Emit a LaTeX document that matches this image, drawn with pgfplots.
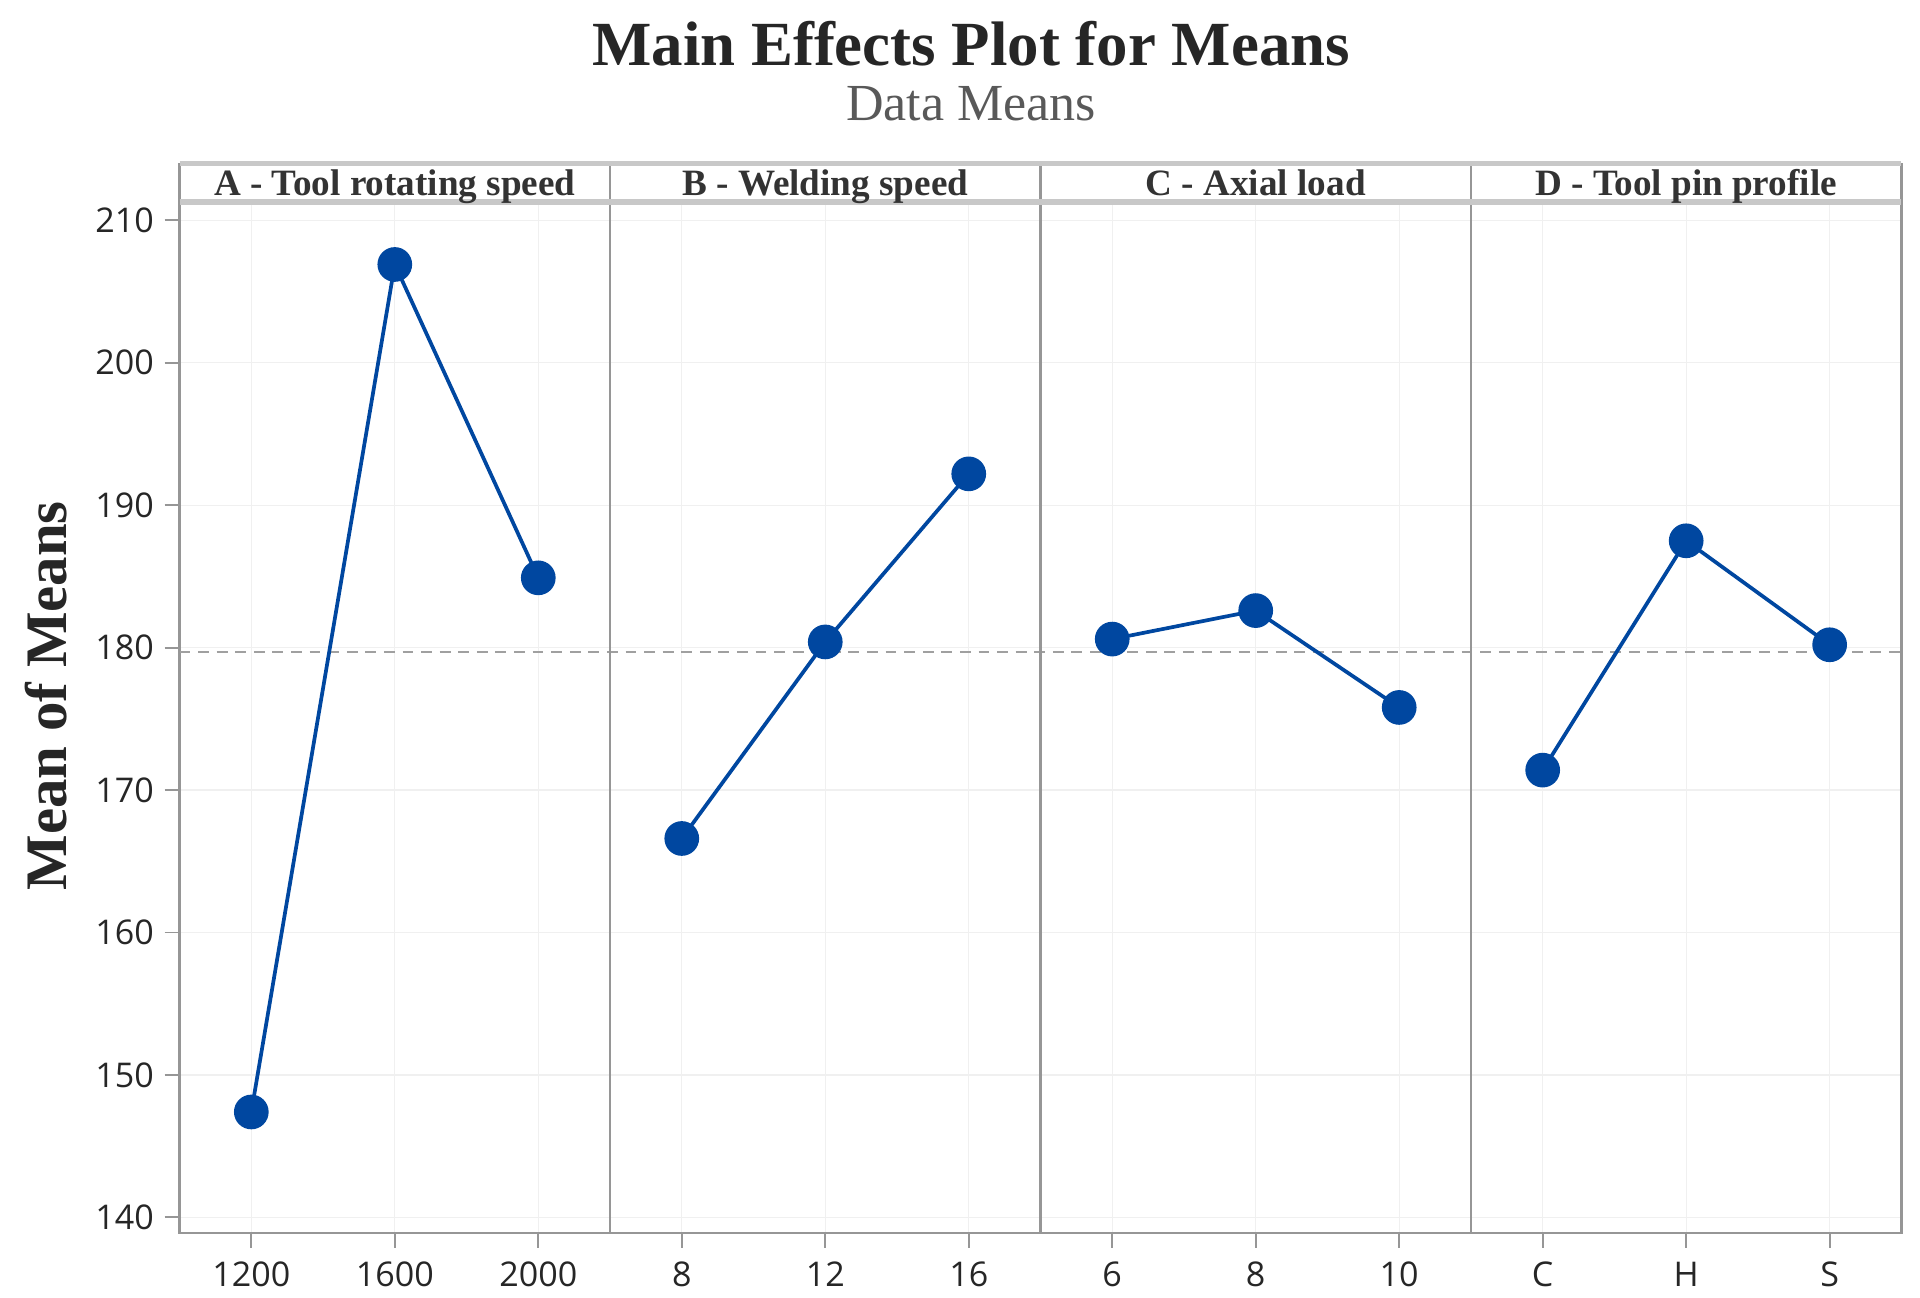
\documentclass[border=0pt]{standalone}
\usepackage{pgfplots}
\pgfplotsset{compat=1.18}
\usepackage{fontspec}
\setmainfont{Liberation Serif}
\newfontfamily\tickfont{Open Sans}

\definecolor{mblue}{RGB}{0,71,160}
\definecolor{framegray}{RGB}{150,150,150}
\definecolor{stripgray}{RGB}{200,200,200}
\definecolor{refgray}{RGB}{160,160,160}

\begin{document}
\begin{tikzpicture}
\begin{axis}[
    scale only axis,
    width=556pt, height=333pt,
    xmin=0.5, xmax=12.5,
    ymin=138.9, ymax=211.3,
    xtick={1,...,12},
    xticklabels={1200,1600,2000,8,12,16,6,8,10,C,H,S},
    ytick={140,150,...,210},
    tick pos=left,
    tick align=outside,
    major tick length=4.8pt,
    tick style={framegray, line width=0.6pt},
    axis line style={framegray, line width=0.8pt},
    grid=major,
    grid style={black!6, line width=0.4pt},
    ticklabel style={font=\tickfont\fontsize{11}{13}\selectfont, text=black!85},
    /pgf/number format/assume math mode=true,
    xticklabel style={yshift=-1pt},
    clip=false,
]

% overall mean
\addplot[refgray, line width=0.7pt, dash pattern=on 3.5pt off 2.5pt]
    coordinates {(0.5,179.7) (12.5,179.7)};

% A - Tool rotating speed
\addplot[mblue, line width=1.2pt, mark=*, mark size=5pt]
    coordinates {(1,147.4) (2,206.9) (3,184.9)};
% B - Welding speed
\addplot[mblue, line width=1.2pt, mark=*, mark size=5pt]
    coordinates {(4,166.6) (5,180.4) (6,192.2)};
% C - Axial load
\addplot[mblue, line width=1.2pt, mark=*, mark size=5pt]
    coordinates {(7,180.6) (8,182.6) (9,175.8)};
% D - Tool pin profile
\addplot[mblue, line width=1.2pt, mark=*, mark size=5pt]
    coordinates {(10,171.4) (11,187.5) (12,180.2)};

% panel separators and strip
\draw[framegray, line width=0.8pt] (rel axis cs:0.25,0) -- (rel axis cs:0.25,1.0372);
\draw[framegray, line width=0.8pt] (rel axis cs:0.5,0) -- (rel axis cs:0.5,1.0372);
\draw[framegray, line width=0.8pt] (rel axis cs:0.75,0) -- (rel axis cs:0.75,1.0372);
\draw[framegray, line width=0.8pt] (rel axis cs:0,1) -- (rel axis cs:0,1.0372);
\draw[framegray, line width=0.8pt] (rel axis cs:1,1) -- (rel axis cs:1,1.0372);
\draw[stripgray, line width=1.4pt] (rel axis cs:0,1.0372) -- (rel axis cs:1,1.0372);
\draw[stripgray, line width=2pt] (rel axis cs:0,1) -- (rel axis cs:1,1);

\node[anchor=base, font=\bfseries\fontsize{12}{14}\selectfont, text=black!80]
    at (rel axis cs:0.125,1.006) {A - Tool rotating speed};
\node[anchor=base, font=\bfseries\fontsize{12}{14}\selectfont, text=black!80]
    at (rel axis cs:0.375,1.006) {B - Welding speed};
\node[anchor=base, font=\bfseries\fontsize{12}{14}\selectfont, text=black!80]
    at (rel axis cs:0.625,1.006) {C - Axial load};
\node[anchor=base, font=\bfseries\fontsize{12}{14}\selectfont, text=black!80]
    at (rel axis cs:0.875,1.006) {D - Tool pin profile};

% titles
\node[anchor=base, font=\bfseries\fontsize{20.3}{24}\selectfont, text=black!85]
    at (rel axis cs:0.4597,1.132) {Main Effects Plot for Means};
\node[anchor=base, font=\fontsize{16.8}{20}\selectfont, text=black!65]
    at (rel axis cs:0.4597,1.079) {Data Means};

% y label
\node[rotate=90, font=\bfseries\fontsize{19}{22}\selectfont, text=black!85]
    at (rel axis cs:-0.0777,0.521) {Mean of Means};

% page extent
\path (rel axis cs:-0.1043,-0.0624) rectangle (rel axis cs:1.0108,1.1957);
\end{axis}
\end{tikzpicture}
\end{document}
